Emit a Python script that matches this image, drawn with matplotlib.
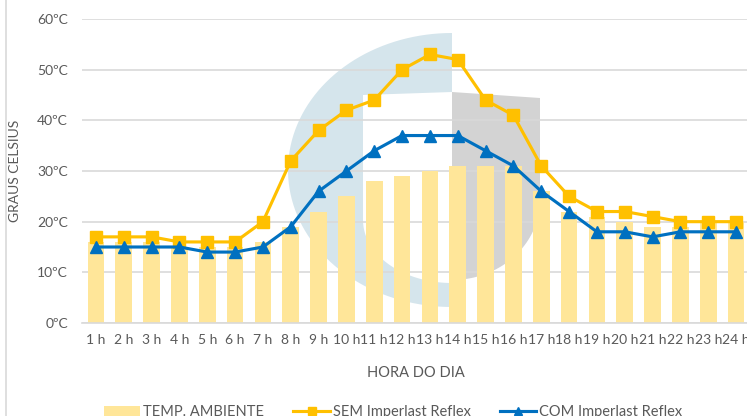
import numpy as np
import matplotlib
matplotlib.use('Agg')
import matplotlib.pyplot as plt
from matplotlib.patches import Polygon
from matplotlib.lines import Line2D
import matplotlib.transforms as mtransforms

plt.rcParams['font.family'] = ['Lato', 'DejaVu Sans']

# dados
horas = [f'{h} h' for h in range(1, 25)]
temp_ambiente = [16, 16, 16, 15, 15, 15, 16, 19, 22, 25, 28, 29,
                 30, 31, 31, 31, 26, 22, 21, 20, 19, 19, 20, 20]
sem_reflex = [17, 17, 17, 16, 16, 16, 20, 32, 38, 42, 44, 50,
              53, 52, 44, 41, 31, 25, 22, 22, 21, 20, 20, 20]
com_reflex = [15, 15, 15, 15, 14, 14, 15, 19, 26, 30, 34, 37,
              37, 37, 34, 31, 26, 22, 18, 18, 17, 18, 18, 18]
y_ticks = [0, 10, 20, 30, 40, 50, 60]

W, H = 747, 416
cinza_txt = '#595959'

fig = plt.figure(figsize=(W / 100, H / 100), dpi=100)
ax = fig.add_axes([82 / W, (H - 323) / H, 668 / W, 304 / H])
ax.set_facecolor('none')

# marca d'água (logo) em coordenadas de pixel da imagem
px = mtransforms.Affine2D().scale(1 / W, -1 / H).translate(0, 1) + fig.transFigure
t = np.linspace(0, np.pi, 80)
outer = np.column_stack([452 - 164 * np.sin(t), 170 - 137 * np.cos(t)])
s = np.linspace(0, np.pi / 2, 40)
inner = np.column_stack([452 - 89 * np.sin(s), 220 + 63 * np.cos(s)])
azul = np.vstack([outer, [[452, 283]], inner, [[363, 95], [452, 92]]])
ax.add_patch(Polygon(azul, closed=True, transform=px, facecolor='#D5E5EC',
                     edgecolor='none', zorder=0.1))
u = np.linspace(0, np.pi / 2, 40)
arco = np.column_stack([452 + 88 * np.cos(u), 200 + 80 * np.sin(u)])
cinza = np.vstack([[[452, 92], [540, 98]], arco])
ax.add_patch(Polygon(cinza, closed=True, transform=px, facecolor='#D3D3D3',
                     edgecolor='none', zorder=0.1))

x = np.arange(len(horas))
barras = ax.bar(x, temp_ambiente, width=0.6, color='#FFE699', zorder=2,
                label='TEMP. AMBIENTE')
l_sem, = ax.plot(x, sem_reflex, color='#FFC000', lw=2.25, marker='s', ms=8,
                 zorder=3, label='SEM Imperlast Reflex')
l_com, = ax.plot(x, com_reflex, color='#0070C0', lw=2.25, marker='^', ms=8,
                 zorder=4, label='COM Imperlast Reflex')

ax.set_xlim(-0.5, len(horas) - 0.5)
ax.set_ylim(0, 60)
ax.set_yticks(y_ticks)
ax.set_yticklabels([f'{v}ºC' for v in y_ticks])
ax.set_xticks(x)
ax.set_xticklabels(horas)
ax.tick_params(length=0, labelsize=10, labelcolor=cinza_txt)
ax.tick_params(axis='x', pad=8)
ax.tick_params(axis='y', pad=10)
ax.grid(axis='y', color='#D9D9D9', lw=1.2, zorder=0.5)
ax.set_axisbelow(True)
for sp in ['top', 'right', 'left']:
    ax.spines[sp].set_visible(False)
ax.spines['bottom'].set_color('#D9D9D9')
ax.spines['bottom'].set_linewidth(1.2)

ax.set_ylabel('GRAUS CELSIUS', fontsize=10, color=cinza_txt)
ax.yaxis.set_label_coords((21 - 82) / 668, 0.5)
ax.set_xlabel('HORA DO DIA', fontsize=10.5, color=cinza_txt)
ax.xaxis.set_label_coords(0.5, (323 - 366) / 304)

leg = fig.legend(handles=[barras, l_sem, l_com], loc='center',
                 bbox_to_anchor=(393 / W, (H - 412) / H),
                 ncol=3, frameon=False, fontsize=10.5, columnspacing=2.0,
                 handlelength=2.5, handletextpad=0.2, markerscale=0.75)
for txt in leg.get_texts():
    txt.set_color(cinza_txt)

# borda esquerda do quadro do gráfico
fig.add_artist(Line2D([6 / W, 6 / W], [0, 1], transform=fig.transFigure,
                      color='#D9D9D9', lw=1.2))

fig.savefig('out.png', dpi=100)
